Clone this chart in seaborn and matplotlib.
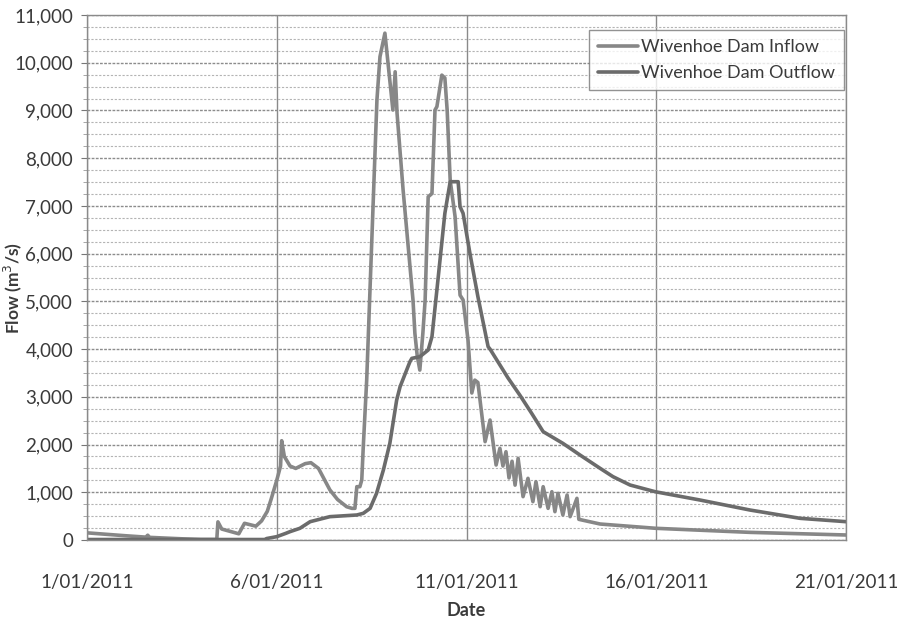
import numpy as np
import pandas as pd
import matplotlib
matplotlib.use("Agg")
import matplotlib.pyplot as plt
import matplotlib.dates as mdates
from matplotlib.ticker import MultipleLocator, FuncFormatter
import seaborn as sns

# ---- data (fractional days since 1/01/2011 00:00, flow in m3/s) ----
inflow_day = [0.0, 1.0, 1.55, 1.6, 1.65, 2.5, 3.0, 3.42, 3.45, 3.55, 4.0, 4.15, 4.25, 4.45,
              4.6, 4.75, 4.85, 5.0, 5.1, 5.13, 5.2, 5.35, 5.5, 5.75, 5.9, 6.1, 6.4, 6.6,
              6.84, 6.98, 7.06, 7.11, 7.19, 7.24, 7.28, 7.37, 7.64, 7.72, 7.85, 8.06,
              8.12, 8.17, 8.33, 8.59, 8.64, 8.70, 8.77, 8.85, 8.91, 8.99, 9.09, 9.17,
              9.22, 9.35, 9.43, 9.49, 9.57, 9.70, 9.83, 9.91, 10.04, 10.14, 10.22, 10.30,
              10.49, 10.62, 10.78, 10.88, 10.96, 11.04, 11.12, 11.20, 11.28, 11.36,
              11.49, 11.62, 11.75, 11.83, 11.94, 12.02, 12.15, 12.25, 12.33, 12.41,
              12.54, 12.65, 12.73, 12.91, 12.96, 13.52, 14.99, 17.47, 20.0]
inflow_val = [150, 90, 60, 100, 55, 25, 10, 10, 380, 230, 130, 350, 330, 290,
              400, 600, 850, 1250, 1550, 2080, 1750, 1550, 1500, 1600, 1620, 1500, 1050, 850,
              698, 663, 663, 1117, 1117, 1257, 1955, 3352, 9220, 10126, 10620, 9010,
              9810, 8940, 7330, 5030, 4330, 3870, 3560, 4330, 5030, 7190, 7260, 9010,
              9080, 9740, 9680, 9010, 7540, 6770, 5130, 5030, 4190, 3080, 3350, 3300,
              2060, 2514, 1571, 1921, 1550, 1850, 1300, 1650, 1150, 1711,
              908, 1292, 803, 1222, 698, 1117, 663, 1012, 593, 978,
              524, 943, 489, 873, 433, 335, 245, 160, 105]

outflow_day = [0.0, 4.7, 4.73, 5.0, 5.24, 5.35, 5.61, 5.88, 6.40, 7.11, 7.28, 7.46, 7.63,
               7.81, 7.98, 8.16, 8.25, 8.51, 8.56, 8.77, 8.99, 9.09, 9.22, 9.43, 9.57,
               9.78, 9.83, 9.91, 10.09, 10.30, 10.57, 10.62, 11.09, 11.41, 11.72, 12.02,
               12.54, 12.99, 13.52, 13.86, 14.31, 14.97, 16.15, 17.47, 18.79, 20.0]
outflow_val = [10, 10, 30, 70, 140, 175, 245, 384, 489, 524, 559, 663, 978,
               1467, 2025, 2933, 3212, 3736, 3806, 3840, 3980, 4260, 5240, 6845, 7507,
               7507, 6983, 6845, 6007, 5100, 4050, 4000, 3400, 3030, 2650, 2270,
               2025, 1781, 1502, 1327, 1152, 1012, 838, 628, 454, 384]

series_names = ["Wivenhoe Dam Inflow", "Wivenhoe Dam Outflow"]
x_ticks = ["1/01/2011", "6/01/2011", "11/01/2011", "16/01/2011", "21/01/2011"]

start = pd.Timestamp("2011-01-01")
df = pd.concat([
    pd.DataFrame({"Date": start + pd.to_timedelta(inflow_day, unit="D"),
                  "Flow": inflow_val, "Series": series_names[0]}),
    pd.DataFrame({"Date": start + pd.to_timedelta(outflow_day, unit="D"),
                  "Flow": outflow_val, "Series": series_names[1]}),
], ignore_index=True)

sns.set_style("white")
plt.rcParams["font.family"] = ["Lato", "DejaVu Sans"]

fig = plt.figure(figsize=(8.97, 6.21), dpi=100)
ax = fig.add_axes([87 / 897, 1 - 540 / 621, (846 - 87) / 897, (540 - 15) / 621])

palette = {series_names[0]: "#878787", series_names[1]: "#6b6b6b"}
sns.lineplot(data=df, x="Date", y="Flow", hue="Series", palette=palette,
             linewidth=2.6, ax=ax, estimator=None, sort=False)

x0 = start
x1 = start + pd.Timedelta(days=20)
ax.set_xlim(x0, x1)
ax.set_ylim(0, 11000)

# grid
ax.yaxis.set_major_locator(MultipleLocator(1000))
ax.yaxis.set_minor_locator(MultipleLocator(250))
ax.yaxis.set_major_formatter(FuncFormatter(lambda v, p: f"{int(v):,}"))
ax.grid(which="major", axis="y", color="#8c8c8c", linestyle=(0, (2, 1)), linewidth=1.0)
ax.grid(which="minor", axis="y", color="#b4b4b4", linestyle=(0, (2, 1.5)), linewidth=0.8)

tick_dates = [start + pd.Timedelta(days=5 * i) for i in range(len(x_ticks))]
ax.set_xticks(tick_dates)
ax.set_xticklabels(x_ticks)
ax.xaxis.set_minor_locator(mdates.DayLocator())
ax.grid(which="major", axis="x", color="#8a8a8a", linestyle="-", linewidth=1.0)
ax.set_axisbelow(True)

ax.tick_params(axis="x", which="major", length=5, direction="inout", color="#777777",
               pad=22, labelsize=13.5, labelcolor="#3a3a3a")
ax.tick_params(axis="x", which="minor", length=5, direction="inout", color="#777777")
ax.tick_params(axis="y", which="major", length=4, direction="out", color="#777777",
               pad=6, labelsize=13.5, labelcolor="#3a3a3a", left=True)
ax.tick_params(axis="y", which="minor", length=3, direction="out", color="#999999", left=True)

for side in ["top", "right", "left", "bottom"]:
    ax.spines[side].set_visible(True)
    ax.spines[side].set_color("#8a8a8a")
    ax.spines[side].set_linewidth(1.0)

ax.set_xlabel("Date", fontsize=13, fontweight="bold", color="#3a3a3a", labelpad=8)
ax.set_ylabel("Flow (m$^3$/s)", fontsize=12.5, fontweight="bold", color="#3a3a3a")
ax.yaxis.set_label_coords(-0.083, 0.48)

leg = ax.legend(loc="upper right", bbox_to_anchor=(1.0, 0.975), fontsize=13,
                frameon=True, fancybox=False, edgecolor="#777777", handlelength=2.2,
                handletextpad=0.2, borderpad=0.5, labelspacing=0.55, borderaxespad=0.1)
leg.get_frame().set_linewidth(1.0)
for t in leg.get_texts():
    t.set_color("#3a3a3a")

fig.savefig("out.png", dpi=100, facecolor="white")
